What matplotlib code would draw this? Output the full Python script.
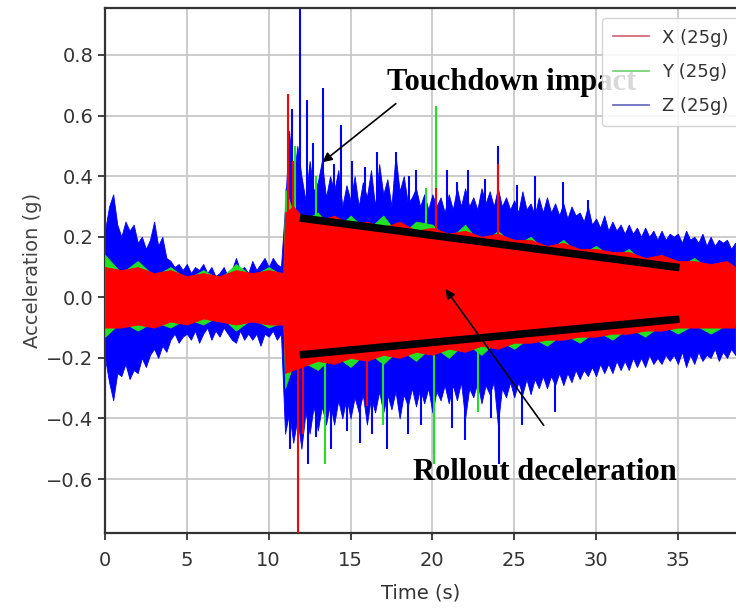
import matplotlib
matplotlib.use("Agg")
import matplotlib.pyplot as plt
from matplotlib.lines import Line2D

# ---------------- data ----------------
# Blue (Z) envelope, sampled every 0.25 s from 0 to 38.5 s
z_t = [i * 0.25 for i in range(155)]
z_hi = [0.22, 0.3, 0.34, 0.24, 0.2, 0.25, 0.22, 0.24, 0.18, 0.2, 0.16, 0.19, 0.25, 0.17, 0.2, 0.13,
        0.12, 0.1, 0.11, 0.09, 0.11, 0.08, 0.1, 0.09, 0.11, 0.08, 0.1, 0.07, 0.08, 0.1, 0.07, 0.09,
        0.13, 0.09, 0.1, 0.08, 0.12, 0.09, 0.11, 0.13, 0.1, 0.13, 0.11, 0.1,
        0.3, 0.55, 0.38, 0.5, 0.4, 0.32, 0.45, 0.35, 0.38, 0.45, 0.33, 0.4, 0.35, 0.42, 0.3, 0.37,
        0.32, 0.4, 0.3, 0.38, 0.33, 0.42, 0.3, 0.44, 0.34, 0.39, 0.3, 0.47, 0.35, 0.4, 0.31, 0.33,
        0.36, 0.3, 0.34, 0.29, 0.34, 0.3, 0.33, 0.28, 0.34, 0.29, 0.36, 0.3, 0.36, 0.3, 0.33, 0.29,
        0.36, 0.31, 0.35, 0.3, 0.36, 0.3, 0.33, 0.29, 0.32, 0.28, 0.35, 0.29, 0.31, 0.27, 0.33, 0.28,
        0.33, 0.28, 0.31, 0.27, 0.31, 0.26, 0.3, 0.27, 0.28, 0.25, 0.3, 0.24, 0.26, 0.23, 0.27, 0.22,
        0.25, 0.22, 0.24, 0.21, 0.24, 0.21, 0.23, 0.2, 0.23, 0.2, 0.22, 0.19, 0.22, 0.19, 0.21, 0.2,
        0.21, 0.18, 0.22, 0.19, 0.2, 0.18, 0.21, 0.17, 0.2, 0.17, 0.19, 0.18, 0.19, 0.16, 0.18]
z_lo = [-0.2, -0.28, -0.34, -0.25, -0.26, -0.22, -0.27, -0.24, -0.25, -0.2, -0.23, -0.19,
        -0.17, -0.2, -0.16, -0.18, -0.14, -0.12, -0.15, -0.13, -0.12, -0.14, -0.11, -0.15,
        -0.12, -0.1, -0.14, -0.11, -0.13, -0.1, -0.12, -0.14, -0.15, -0.11, -0.14, -0.12,
        -0.14, -0.12, -0.16, -0.12, -0.13, -0.11, -0.14, -0.12,
        -0.45, -0.38, -0.48, -0.4, -0.5, -0.38, -0.45, -0.36, -0.44, -0.36, -0.42, -0.35,
        -0.42, -0.34, -0.4, -0.33, -0.4, -0.33, -0.38, -0.32, -0.42, -0.33, -0.38, -0.31,
        -0.38, -0.32, -0.37, -0.31, -0.4, -0.32, -0.36, -0.3, -0.36, -0.3, -0.35, -0.3,
        -0.38, -0.31, -0.34, -0.29, -0.35, -0.29, -0.34, -0.28, -0.4, -0.3, -0.33, -0.28,
        -0.35, -0.29, -0.32, -0.28, -0.42, -0.3, -0.33, -0.28, -0.33, -0.28, -0.32, -0.27,
        -0.32, -0.27, -0.3, -0.26, -0.3, -0.26, -0.29, -0.25, -0.29, -0.25, -0.28, -0.24,
        -0.27, -0.24, -0.26, -0.23, -0.26, -0.22, -0.25, -0.22, -0.25, -0.21, -0.24, -0.21,
        -0.24, -0.2, -0.23, -0.2, -0.23, -0.19, -0.22, -0.2, -0.22, -0.19, -0.21, -0.19,
        -0.22, -0.18, -0.23, -0.19, -0.22, -0.18, -0.21, -0.19, -0.2, -0.17, -0.21, -0.18,
        -0.2, -0.17, -0.19]

# Red (X) and green (Y) envelopes, about every 1 s
xy_t = [0, 1, 2, 3, 4, 5, 6, 7, 8, 9, 10, 10.9, 11, 11.5, 12, 13, 14, 15, 16, 17, 18, 19, 20,
        21, 22, 23, 24, 25, 26, 27, 28, 29, 30, 31, 32, 33, 34, 35, 36, 37, 38, 38.5]
x_hi = [0.1, 0.09, 0.1, 0.08, 0.09, 0.07, 0.08, 0.07, 0.09, 0.08, 0.09, 0.08, 0.28, 0.3,
        0.27, 0.25, 0.27, 0.24, 0.25, 0.23, 0.25, 0.22, 0.23, 0.21, 0.22, 0.2, 0.21, 0.19, 0.19,
        0.17, 0.18, 0.16, 0.16, 0.15, 0.15, 0.13, 0.14, 0.12, 0.12, 0.11, 0.12, 0.1]
x_lo = [-0.1, -0.1, -0.09, -0.1, -0.08, -0.09, -0.07, -0.08, -0.09, -0.08, -0.09, -0.09, -0.25,
        -0.24, -0.23, -0.21, -0.22, -0.2, -0.21, -0.19, -0.2, -0.18, -0.19, -0.17, -0.18, -0.16,
        -0.17, -0.15, -0.15, -0.14, -0.14, -0.13, -0.13, -0.12, -0.12, -0.11, -0.11, -0.1, -0.1,
        -0.1, -0.1, -0.1]
y_hi = [0.14, 0.08, 0.12, 0.07, 0.1, 0.06, 0.09, 0.06, 0.11, 0.07, 0.1, 0.07, 0.36, 0.28,
        0.25, 0.28, 0.22, 0.27, 0.22, 0.27, 0.2, 0.25, 0.24, 0.19, 0.24, 0.17, 0.22, 0.17, 0.2,
        0.15, 0.19, 0.14, 0.17, 0.13, 0.16, 0.11, 0.14, 0.1, 0.13, 0.09, 0.11, 0.09]
y_lo = [-0.13, -0.08, -0.11, -0.08, -0.1, -0.07, -0.09, -0.06, -0.11, -0.07, -0.1, -0.08, -0.3,
        -0.22, -0.21, -0.24, -0.19, -0.23, -0.18, -0.22, -0.17, -0.21, -0.16, -0.2, -0.15, -0.19,
        -0.14, -0.17, -0.13, -0.16, -0.12, -0.15, -0.11, -0.14, -0.1, -0.13, -0.09, -0.12, -0.09,
        -0.12, -0.09, -0.09]

# Isolated spikes
z_spike_t = [11.45, 11.9, 12.35, 12.7, 13.3, 14.4, 15.1, 16.6, 17.8, 19.0, 20.9, 22.2, 24.0,
             26.3, 28.0, 29.5, 14.0, 15.9, 18.6, 21.5, 23.2, 25.2,
             11.3, 12.4, 13.8, 15.6, 17.2, 18.5, 20.1, 22.0, 24.1, 25.5, 27.5, 12.9, 14.8, 16.3,
             19.3, 21.2, 23.6]
z_spike_v = [0.62, 0.98, 0.65, 0.51, 0.69, 0.57, 0.45, 0.48, 0.48, 0.42, 0.42, 0.42, 0.5, 0.4,
             0.38, 0.32, 0.44, 0.43, 0.4, 0.38, 0.39, 0.37,
             -0.5, -0.55, -0.5, -0.48, -0.5, -0.45, -0.52, -0.47, -0.55, -0.42, -0.38, -0.46,
             -0.44, -0.45, -0.42, -0.43, -0.4]
y_spike_t = [11.6, 20.2, 13.45, 20.1, 12.9, 17.0, 19.6, 22.8]
y_spike_v = [0.5, 0.63, -0.55, -0.55, 0.4, -0.42, 0.36, -0.38]
x_spike_t = [11.15, 11.8, 11.5, 12.1, 24.0, 20.2, 16.0]
x_spike_v = [0.67, -0.8, 0.45, -0.45, 0.44, 0.36, -0.36]

# Annotation trend lines (start/end points)
trend_t = [11.9, 35.1]
trend_hi = [0.262, 0.098]
trend_lo = [-0.19, -0.072]

x_ticks = [0, 5, 10, 15, 20, 25, 30, 35]
y_ticks = [-0.6, -0.4, -0.2, 0.0, 0.2, 0.4, 0.6, 0.8]

# ---------------- figure ----------------
W, H = 736, 608
fig = plt.figure(figsize=(W / 100, H / 100), dpi=100)
ax = fig.add_axes([105 / W, 1 - 533 / H, (W - 105) / W, (533 - 8) / H])

RED, GREEN, BLUE = "#ff0000", "#22e022", "#0000ff"

ax.fill_between(z_t, z_lo, z_hi, color=BLUE, lw=0.6, zorder=2)
ax.vlines(z_spike_t, 0, z_spike_v, color=BLUE, lw=1.5, zorder=2)
ax.fill_between(xy_t, y_lo, y_hi, color=GREEN, lw=0.5, zorder=3)
ax.vlines(y_spike_t, 0, y_spike_v, color=GREEN, lw=1.5, zorder=3)
ax.fill_between(xy_t, x_lo, x_hi, color=RED, lw=0.5, zorder=4)
ax.vlines(x_spike_t, 0, x_spike_v, color=RED, lw=1.5, zorder=4)

ax.plot(trend_t, trend_hi, color="black", lw=5.5, solid_capstyle="butt", zorder=6)
ax.plot(trend_t, trend_lo, color="black", lw=5.5, solid_capstyle="butt", zorder=6)

ax.set_xlim(0, 38.55)
ax.set_ylim(-0.778, 0.955)
ax.set_xticks(x_ticks)
ax.set_yticks(y_ticks)
ax.set_yticklabels([f"{v:.1f}".replace("-", "\u2212") for v in y_ticks])
ax.grid(True, color="#c8c8c8", lw=1.3, zorder=0)
ax.set_axisbelow(True)
ax.spines["right"].set_visible(False)
for s in ["left", "top", "bottom"]:
    ax.spines[s].set_color("#333333")
    ax.spines[s].set_linewidth(1.6)
ax.tick_params(labelsize=14, colors="#333333", length=5, width=1.3, labelcolor="#333333")
ax.tick_params(axis="x", pad=8)
ax.set_xlabel("Time (s)", fontsize=14, color="#333333", labelpad=10)
ax.set_ylabel("Acceleration (g)", fontsize=14, color="#444444", labelpad=3)

serif = dict(family="Liberation Serif", fontweight="bold", fontsize=22, color="black")
ax.annotate("", xy=(13.15, 0.44), xytext=(17.9, 0.645),
            arrowprops=dict(arrowstyle="-|>", color="black", lw=1.2, mutation_scale=14), zorder=7)
ax.text(17.2, 0.71, "Touchdown impact", ha="left", va="center", zorder=7, **serif)
ax.annotate("", xy=(20.7, 0.035), xytext=(26.9, -0.43),
            arrowprops=dict(arrowstyle="-|>", color="black", lw=1.2, mutation_scale=14), zorder=7)
ax.text(18.8, -0.578, "Rollout deceleration", ha="left", va="center", zorder=7, **serif)

handles = [Line2D([], [], color=c, lw=1.2) for c in ["#d06070", "#70d070", "#6060c0"]]
leg = ax.legend(handles, ["X (25g)", "Y (25g)", "Z (25g)"], loc="upper left",
                bbox_to_anchor=(0.788, 0.981), fontsize=13, frameon=True, framealpha=0.85,
                edgecolor="#cccccc", handlelength=2.0, handletextpad=0.7, borderpad=0.6,
                labelspacing=0.9, borderaxespad=0)
for t in leg.get_texts():
    t.set_color("#333333")
leg.set_zorder(8)

fig.savefig("out.png", dpi=100)
